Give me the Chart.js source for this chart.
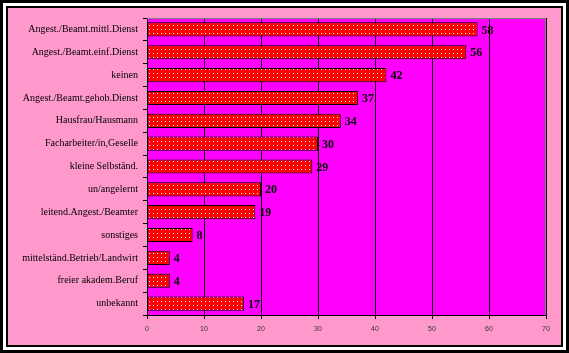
<!DOCTYPE html>
<html>
<head>
<meta charset="utf-8">
<script src="https://cdn.jsdelivr.net/npm/chart.js@4"></script>
<style>
  body { margin: 0; background: #fff; }
  canvas { display: block; }
</style>
</head>
<body>
<canvas id="myChart" width="569" height="353"></canvas>
<script>
// data
const berufe = ['Angest./Beamt.mittl.Dienst', 'Angest./Beamt.einf.Dienst', 'keinen', 'Angest./Beamt.gehob.Dienst',
  'Hausfrau/Hausmann', 'Facharbeiter/in,Geselle', 'kleine Selbständ.', 'un/angelernt', 'leitend.Angest./Beamter',
  'sonstiges', 'mittelständ.Betrieb/Landwirt', 'freier akadem.Beruf', 'unbekannt'];
const anzahl = [58, 56, 42, 37, 34, 30, 29, 20, 19, 8, 4, 4, 17];
const xTicks = [0, 10, 20, 30, 40, 50, 60, 70];

// rotes Muster mit weissen Punkten
const pc = document.createElement('canvas');
pc.width = 4; pc.height = 4;
const pctx = pc.getContext('2d');
pctx.fillStyle = '#ff0000';
pctx.fillRect(0, 0, 4, 4);
pctx.fillStyle = '#ffffff';
pctx.fillRect(1, 1, 1, 1);
const dots = pctx.createPattern(pc, 'repeat');

// Hintergrund, Rahmen
const frame = {
  id: 'frame',
  beforeDraw(chart) {
    const c = chart.ctx;
    const w = chart.width, h = chart.height;
    c.save();
    c.fillStyle = '#ffffff';
    c.fillRect(0, 0, w, h);
    c.fillStyle = '#ff99cc';
    c.fillRect(8, 8, w - 16, h - 16);
    c.strokeStyle = '#000';
    c.lineWidth = 3;
    c.strokeRect(1.5, 1.5, w - 3, h - 3);
    c.lineWidth = 2;
    c.strokeRect(7, 7, w - 14, h - 14);
    const a = chart.chartArea;
    c.fillStyle = '#ff00ff';
    c.fillRect(a.left, a.top, a.right - a.left, a.bottom - a.top);
    c.restore();
  },
  afterDraw(chart) {
    const c = chart.ctx;
    const a = chart.chartArea;
    c.save();
    c.strokeStyle = '#808080';
    c.lineWidth = 1;
    c.beginPath();
    c.moveTo(a.left, a.top + 0.5);
    c.lineTo(a.right - 0.5, a.top + 0.5);
    c.lineTo(a.right - 0.5, a.bottom);
    c.stroke();
    c.restore();
  }
};

// Werte rechts neben den Balken
const valueLabels = {
  id: 'valueLabels',
  afterDatasetsDraw(chart) {
    const c = chart.ctx;
    const meta = chart.getDatasetMeta(0);
    c.save();
    c.font = 'bold 12px "Liberation Serif"';
    c.fillStyle = '#000';
    c.textBaseline = 'middle';
    meta.data.forEach((bar, i) => {
      c.fillText(anzahl[i], bar.x + 4, bar.y + 1);
    });
    c.restore();
  }
};

const ctx = document.getElementById('myChart');
const myChart = new Chart(ctx, {
  type: 'bar',
  data: {
    labels: berufe,
    datasets: [{
      data: anzahl,
      backgroundColor: dots,
      borderColor: '#000',
      borderWidth: 1,
      borderSkipped: false,
      barPercentage: 0.62,
      categoryPercentage: 1
    }]
  },
  options: {
    indexAxis: 'y',
    responsive: false,
    animation: false,
    layout: { padding: { left: 0, top: 18, right: 23, bottom: 0 } },
    plugins: { legend: { display: false }, tooltip: { enabled: false } },
    scales: {
      x: {
        min: 0, max: 70,
        afterFit(s) { s.height = 38; },
        afterBuildTicks(s) { s.ticks = xTicks.map(v => ({ value: v })); },
        grid: { color: '#000', lineWidth: 1, tickLength: 4 },
        border: { color: '#000', width: 1 },
        ticks: { color: '#333', font: { family: 'Liberation Sans', size: 7 }, padding: 6 }
      },
      y: {
        afterFit(s) { s.width = 147; },
        grid: { drawOnChartArea: false, color: '#000', tickLength: 4, offset: true },
        border: { color: '#000', width: 1 },
        ticks: { color: '#000', font: { family: 'Liberation Serif', size: 10 }, padding: 5, autoSkip: false }
      }
    }
  },
  plugins: [frame, valueLabels]
});
</script>
</body>
</html>
